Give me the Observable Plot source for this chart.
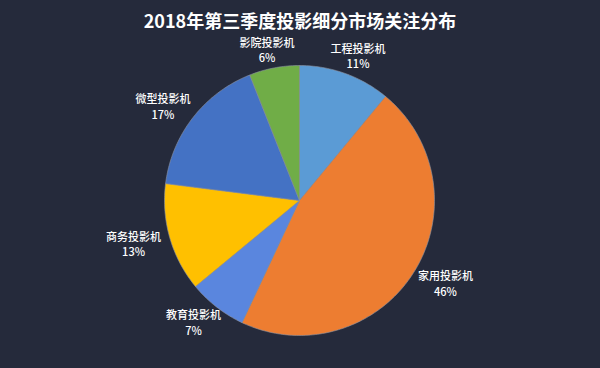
<!DOCTYPE html>
<html>
<head>
<meta charset="utf-8">
<script src="https://cdn.jsdelivr.net/npm/d3@7"></script>
<script src="https://cdn.jsdelivr.net/npm/@observablehq/plot@0.6"></script>
<style>
  html, body { margin: 0; padding: 0; background: #252a3b; }
  body { position: relative; width: 600px; height: 368px; overflow: hidden; }
  #title { position: absolute; left: 0; top: 10px; width: 600px; height: 20px; line-height: 20px; text-align: center; color: #ffffff;
           font-family: "Noto Sans CJK SC", sans-serif; font-weight: bold; font-size: 18px; z-index: 2; }
  #chart svg { display: block; }
</style>
</head>
<body>
<div id="title">2018年第三季度投影细分市场关注分布</div>
<div id="chart"></div>
<script>
const categories = ["工程投影机", "家用投影机", "教育投影机", "商务投影机", "微型投影机", "影院投影机"];
const values = [11, 46, 7, 13, 17, 6];
const colors = ["#5b9bd5", "#ed7d31", "#5a86de", "#ffc000", "#4472c4", "#70ad47"];

const total = d3.sum(values);
const slicePoints = [];
const labels = [];
let acc = 0;
categories.forEach((c, i) => {
  const a0 = acc / total * 2 * Math.PI;
  acc += values[i];
  const a1 = acc / total * 2 * Math.PI;
  slicePoints.push({cat: c, x: 0, y: 0});
  const n = Math.max(2, Math.ceil((a1 - a0) / (Math.PI / 180)));
  for (let k = 0; k <= n; k++) {
    const a = a0 + (a1 - a0) * k / n;
    slicePoints.push({cat: c, x: Math.sin(a), y: Math.cos(a)});
  }
  slicePoints.push({cat: c, x: 0, y: 0});
  const am = (a0 + a1) / 2;
  labels.push({cat: c, x: 1.28 * Math.sin(am), y: 1.14 * Math.cos(am), text: c + "\n" + values[i] + "%"});
});

const cx = 299, cy = 200, r = 135;
const chart = Plot.plot({
  width: 600,
  height: 368,
  margin: 0,
  style: {background: "#252a3b", fontFamily: "'Noto Sans CJK SC', sans-serif"},
  x: {domain: [-1, 1], range: [cx - r, cx + r], axis: null},
  y: {domain: [-1, 1], range: [cy + r, cy - r], axis: null},
  color: {domain: categories, range: colors},
  marks: [
    Plot.line(slicePoints, {x: "x", y: "y", z: "cat", fill: "cat", stroke: "#8d93a3", strokeWidth: 0.6, curve: "linear"}),
    Plot.text(labels, {x: "x", y: "y", text: "text", fill: "#ffffff", fontSize: 11, fontWeight: 500, lineHeight: 1.4})
  ]
});
document.getElementById("chart").appendChild(chart);
</script>
</body>
</html>
